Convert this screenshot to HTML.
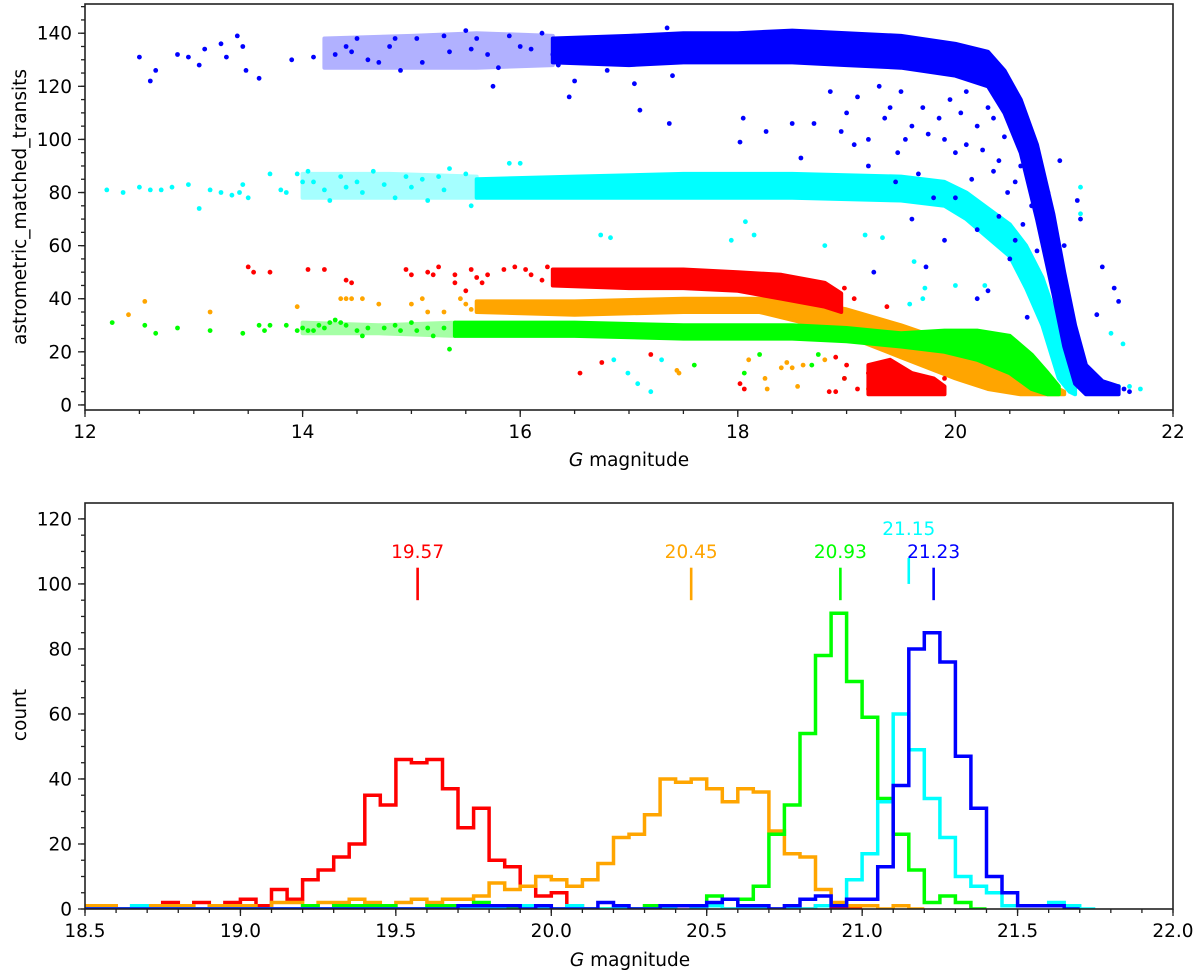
<!DOCTYPE html>
<html><head><meta charset="utf-8"><style>
html,body{margin:0;padding:0;background:#fff;}
svg{display:block;font-family:"DejaVu Sans","Liberation Sans",sans-serif;}
</style></head><body>
<svg id="fig" width="1200" height="975" viewBox="0 0 1200 975" xmlns="http://www.w3.org/2000/svg">
<g id="topPanel"></g>
<g id="botPanel"></g>
</svg>
<script>
// ---------- scatter data ----------
const colors = ['#ff0000','#ffa500','#00ff00','#00ffff','#0000ff'];
const seriesNames = ['red','orange','green','cyan','blue'];
const blueBandMag = [16.3,17.0,17.5,18.0,18.5,19.0,19.5,20.0,20.3,20.45,20.6,20.75,20.9,21.0,21.1,21.2,21.35,21.5];
const blueBandHi  = [138,139,140,140,141,140,139,136,133,126,115,98,72,50,30,15,9,7];
const blueBandLo  = [129,128,129,129,129,128,127,124,120,110,95,70,42,22,8,4,4,4];
const blueSparseBandMag = [14.2,15.0,15.6,16.3];
const blueSparseBandHi  = [138,139,140,139];
const blueSparseBandLo  = [127,127,127,128];
const cyanBandMag = [15.6,16.5,17.5,18.5,19.5,19.9,20.1,20.3,20.5,20.65,20.8,20.95,21.05,21.1];
const cyanBandHi  = [85,86,87,87,86,84,80,74,68,60,48,30,15,8];
const cyanBandLo  = [78,78,78,78,77,75,70,63,56,44,30,10,5,4];
const cyanSparseBandMag = [14.0,14.8,15.6];
const cyanSparseBandHi  = [87,87,86];
const cyanSparseBandLo  = [78,78,78];
const redBandMag  = [16.3,17.0,17.5,18.0,18.4,18.8,18.95];
const redBandHi   = [51,51,51,50,49,46,42];
const redBandLo   = [45,44,44,43,40,37,35];
const redClMag    = [19.2,19.4,19.6,19.8,19.9];
const redClHi     = [15,17,12,10,7];
const redClLo     = [4,4,4,4,4];
const orBandMag   = [15.6,16.5,17.5,18.2,18.6,19.0,19.5,20.0,20.3,20.6,20.9,21.0];
const orBandHi    = [39,39,40,40,39,36,30,23,17,11,7,5];
const orBandLo    = [35,34,35,35,31,26,18,10,6,4,4,4];
const grBandMag   = [15.4,16.5,17.5,18.5,19.0,19.5,19.9,20.2,20.5,20.7,20.85,20.95];
const grBandHi    = [31,31,30,30,29,27,28,28,26,19,12,7];
const grBandLo    = [26,26,25,25,24,22,20,17,12,6,4,4];
const grSparseBandMag = [14.0,14.7,15.4];
const grSparseBandHi  = [31,30,31];
const grSparseBandLo  = [27,27,26];
const blueSparse = [[12.5,131],[12.6,122],[12.65,126],[12.85,132],[12.95,131],[13.05,128],[13.1,134],[13.25,136],[13.3,131],[13.4,139],[13.45,135],[13.48,126],[13.6,123],[13.9,130],[14.1,131],[14.3,132],[14.4,135],[14.45,133],[14.5,138],[14.6,130],[14.7,129],[14.8,135],[14.85,138],[14.9,126],[15.05,138],[15.1,129],[15.3,139],[15.35,133],[15.5,141],[15.55,134],[15.6,138],[15.7,132],[15.75,120],[15.8,127],[15.9,139],[16.0,135],[16.1,134],[16.2,140],[16.3,132],[16.35,128],[16.45,116],[16.5,122],[16.6,133],[16.7,138],[16.8,126],[16.9,131],[17.05,121],[17.35,142],[17.4,124],[17.1,111],[17.37,106],[18.02,99],[18.05,108],[18.26,103],[18.5,106],[18.58,93],[18.7,106],[19.0,110],[19.07,98],[19.2,100],[19.25,50],[19.47,95],[19.54,100],[19.66,87],[19.73,52],[19.85,108],[20.0,95],[20.1,98],[20.2,105],[20.3,43],[20.4,71],[20.48,80],[20.6,90],[20.66,33],[20.8,62],[20.96,92],[21.12,77],[21.15,70],[21.35,52],[21.5,39],[21.46,44],[21.3,34],[19.9,62],[20.5,55],[20.2,40],[19.6,70],[19.8,78],[20.7,88],[21.0,60],[19.4,112],[19.95,115],[20.15,85],[20.35,108],[18.85,118],[19.3,120],[21.55,6],[21.6,5],[19.1,116],[19.35,108],[19.5,118],[19.7,112],[19.75,102],[19.9,100],[20.05,110],[20.1,118],[20.25,96],[20.3,112],[20.4,92],[20.45,101],[20.55,84],[20.62,68],[20.7,75],[20.85,80],[20.75,58],[20.9,50],[19.45,84],[19.2,90],[18.95,103],[19.6,105],[20.0,78],[20.2,66],[20.55,62],[20.35,88]];
const cyanSparse = [[12.2,81],[12.35,80],[12.5,82],[12.6,81],[12.7,81],[12.8,82],[12.95,83],[13.05,74],[13.15,81],[13.25,80],[13.35,79],[13.42,80],[13.45,83],[13.5,78],[13.7,87],[13.8,81],[13.85,80],[13.95,87],[14.0,84],[14.05,88],[14.1,84],[14.2,81],[14.25,77],[14.35,86],[14.4,82],[14.5,84],[14.55,80],[14.65,88],[14.75,83],[14.85,78],[14.95,86],[15.0,82],[15.1,85],[15.15,77],[15.25,86],[15.3,81],[15.35,89],[15.5,87],[15.55,75],[15.65,83],[15.7,81],[15.9,91],[16.0,91],[15.8,84],[16.86,17],[16.99,12],[17.08,8],[17.3,17],[16.74,64],[16.83,63],[17.94,62],[18.07,69],[18.15,64],[18.8,60],[19.17,64],[19.33,63],[19.62,54],[19.72,44],[19.58,38],[19.7,40],[20.0,45],[20.27,45],[20.58,52],[20.7,48],[21.15,82],[21.15,72],[21.43,27],[21.54,23],[21.6,7],[21.7,6],[21.5,7],[17.2,5],[20.9,45],[21.0,40]];
const redSparse = [[13.5,52],[13.55,50],[13.7,50],[14.05,51],[14.2,51],[14.4,47],[14.45,46],[14.95,51],[15.0,49],[15.15,50],[15.2,49],[15.25,52],[15.4,49],[15.4,46],[15.5,43],[15.55,51],[15.6,48],[15.65,46],[15.7,49],[15.85,51],[15.95,52],[16.05,51],[16.1,49],[16.2,47],[16.25,52],[16.55,12],[16.75,16],[17.2,19],[18.06,6],[18.02,8],[18.84,5],[18.98,10],[19.1,6],[19.2,12],[19.37,37],[18.98,44],[19.07,40],[18.9,18],[19.0,15],[19.6,6],[19.9,10],[19.85,5],[18.9,5]];
const orangeSparse = [[12.4,34],[12.55,39],[13.15,35],[13.95,37],[14.35,40],[14.4,40],[14.45,40],[14.55,40],[14.7,38],[15.0,38],[15.1,40],[15.15,35],[15.3,35],[15.45,40],[15.5,38],[15.55,36],[17.44,13],[18.1,17],[18.25,10],[18.4,14],[18.5,14],[18.45,16],[18.6,15],[18.27,6],[18.55,7],[18.8,17],[19.2,6],[17.46,12]];
const greenSparse = [[12.25,31],[12.55,30],[12.65,27],[12.85,29],[13.15,28],[13.45,27],[13.6,30],[13.65,28],[13.7,30],[13.85,30],[13.95,28],[14.0,29],[14.05,28],[14.1,28],[14.15,30],[14.2,29],[14.25,31],[14.3,32],[14.35,31],[14.4,30],[14.5,28],[14.55,26],[14.6,29],[14.75,29],[14.85,30],[14.9,28],[15.0,31],[15.05,28],[15.15,29],[15.2,26],[15.3,29],[15.35,21],[17.6,15],[18.06,12],[18.2,19],[18.68,15],[18.74,19],[18.98,10],[19.5,8],[19.3,12],[19.45,15]];
const topXTicks = [12,14,16,18,20,22];
const topYTicks = [0,20,40,60,80,100,120,140];

// ---------- histogram data (bins of 0.05 from 18.5) ----------
const binStart = 18.5, binWidth = 0.05;
const histRed = [1,1,0,0,0,2,1,2,1,2,3,1,6,3,9,12,16,20,35,32,46,45,46,37,25,31,15,13,7,4,5,1,0,0,0,0,0,0,1,0,1,0,0,0,0,0,0,1,0,0];
const histOrange = [1,1,0,0,1,1,1,0,1,1,1,0,2,2,0,2,2,3,2,1,2,3,2,3,3,4,8,6,7,10,9,7,9,14,22,23,29,40,39,40,37,33,37,36,24,17,16,6,2,1,1,0,1,0];
const histGreen = [0,0,0,0,0,0,0,0,0,0,0,0,0,0,1,0,1,1,1,1,0,0,1,1,0,2,0,0,0,0,0,0,0,0,0,0,1,1,1,1,4,3,3,7,23,32,54,78,91,70,59,34,23,12,2,4,2,0];
const histCyan = [0,0,0,1,0,0,0,0,0,0,0,0,0,0,0,0,0,0,0,0,0,0,0,0,0,0,0,1,1,0,0,1,0,0,0,0,0,0,1,0,1,0,0,0,0,0,0,1,1,9,17,33,60,49,34,22,10,7,5,1,1,1,2,1,0];
const histBlue = [0,0,0,0,0,0,0,0,0,0,0,0,0,0,0,0,0,0,0,0,0,0,0,0,1,1,1,1,0,1,0,0,0,2,1,0,0,1,1,1,2,3,1,1,0,1,3,4,1,3,3,13,38,80,85,76,47,31,10,5,1,1,1,0];
const meanVals = [19.57,20.45,20.93,21.15,21.23];
const meanLabels = ['19.57','20.45','20.93','21.15','21.23'];
const meanTickLo = [95,95,95,100,95];
const meanTickHi = [105,105,105,108,105];
const meanLabelY = [108,108,108,115,108];
const botXTicks = [18.5,19.0,19.5,20.0,20.5,21.0,21.5,22.0];
const botXTickLabels = ['18.5','19.0','19.5','20.0','20.5','21.0','21.5','22.0'];
const botYTicks = [0,20,40,60,80,100,120];

(function(){
const T = {l:85,r:1173,t:4,b:410, x0:12,x1:22, y0:-1.9,y1:151};
const B = {l:85,r:1173,t:503,b:909, x0:18.5,x1:22, y0:0,y1:124.9};
const tx = v => T.l + (v-T.x0)/(T.x1-T.x0)*(T.r-T.l);
const ty = v => T.b - (v-T.y0)/(T.y1-T.y0)*(T.b-T.t);
const bx = v => B.l + (v-B.x0)/(B.x1-B.x0)*(B.r-B.l);
const by = v => B.b - (v-B.y0)/(B.y1-B.y0)*(B.b-B.t);
const NS='http://www.w3.org/2000/svg';
function mk(tag, parent, attrs){const e=document.createElementNS(NS,tag);for(const k in attrs)e.setAttribute(k,attrs[k]);parent.appendChild(e);return e;}
const topG=document.getElementById('topPanel'), botG=document.getElementById('botPanel');

const defs=mk('defs',document.getElementById('fig'),{});
const cp=mk('clipPath',defs,{id:'clipT'});mk('rect',cp,{x:T.l,y:T.t,width:T.r-T.l,height:T.b-T.t});
const cp2=mk('clipPath',defs,{id:'clipB'});mk('rect',cp2,{x:B.l,y:B.t,width:B.r-B.l,height:B.b-B.t});

const plotT=mk('g',topG,{'clip-path':'url(#clipT)'});



function band(mags,hi,lo,color,name,op){
  let d='M'+mags.map((m,i)=>tx(m).toFixed(1)+','+ty(hi[i]).toFixed(1)).join(' L');
  for(let i=mags.length-1;i>=0;i--) d+=' L'+tx(mags[i]).toFixed(1)+','+ty(lo[i]).toFixed(1);
  d+='Z';
  const p=mk('path',plotT,{d:d,fill:color,stroke:color,'stroke-width':4,'stroke-linejoin':'round',opacity:op||1});
  
  
}
function pts(arr,color,name){
  const g=mk('g',plotT,{fill:color});
  
  
  arr.forEach(p=>{const c=mk('circle',g,{cx:tx(p[0]).toFixed(1),cy:ty(p[1]).toFixed(1),r:2.4});
    
    });
}
band(orBandMag,orBandHi,orBandLo,colors[1],'orange-dense-band');
pts(orangeSparse,colors[1],'orange-points');
band(grSparseBandMag,grSparseBandHi,grSparseBandLo,colors[2],'green-sparse-band',0.35);
band(grBandMag,grBandHi,grBandLo,colors[2],'green-dense-band');
pts(greenSparse,colors[2],'green-points');
band(redBandMag,redBandHi,redBandLo,colors[0],'red-dense-band');
band(redClMag,redClHi,redClLo,colors[0],'red-faint-cluster');
pts(redSparse,colors[0],'red-points');
band(cyanSparseBandMag,cyanSparseBandHi,cyanSparseBandLo,colors[3],'cyan-sparse-band',0.35);
band(cyanBandMag,cyanBandHi,cyanBandLo,colors[3],'cyan-dense-band');
pts(cyanSparse,colors[3],'cyan-points');
band(blueSparseBandMag,blueSparseBandHi,blueSparseBandLo,colors[4],'blue-sparse-band',0.3);
band(blueBandMag,blueBandHi,blueBandLo,colors[4],'blue-dense-band');
pts(blueSparse,colors[4],'blue-points');

function frame(parent,A,name){
  const r=mk('rect',parent,{x:A.l,y:A.t,width:A.r-A.l,height:A.b-A.t,fill:'none',stroke:'#222',"stroke-width":1.6});
  
  
}
function xTicks(parent,A,fx,major,labels,minorStep,name){
  const g=mk('g',parent,{stroke:'#222','stroke-width':1.3});
  
  
  for(let v=A.x0;v<=A.x1+1e-9;v+=minorStep){mk('line',g,{x1:fx(v),x2:fx(v),y1:A.b,y2:A.b+4});}
  major.forEach((v,i)=>{mk('line',g,{x1:fx(v),x2:fx(v),y1:A.b,y2:A.b+7});
    const t=mk('text',parent,{x:fx(v),y:A.b+28,'font-size':18.5,'text-anchor':'middle',fill:'#000'});
    t.textContent=labels[i];
    
    });
}
function yTicks(parent,A,fy,major,minorStep,name){
  const g=mk('g',parent,{stroke:'#222','stroke-width':1.3});
  
  
  const s=Math.ceil(A.y0/minorStep)*minorStep;
  for(let v=s;v<=A.y1;v+=minorStep){mk('line',g,{x1:A.l-4,x2:A.l,y1:fy(v),y2:fy(v)});}
  major.forEach(v=>{mk('line',g,{x1:A.l-7,x2:A.l,y1:fy(v),y2:fy(v)});
    const t=mk('text',parent,{x:A.l-13,y:fy(v)+6.5,'font-size':18.5,'text-anchor':'end',fill:'#000'});
    t.textContent=String(v);
    
    });
}
function xTitle(parent,x,y,name){
  const t=mk('text',parent,{x:x,y:y,'font-size':18.5,'text-anchor':'middle'});
  const s1=mk('tspan',t,{'font-style':'italic'}); s1.textContent='G';
  const s2=mk('tspan',t,{}); s2.textContent=' magnitude';
  
  
}
frame(topG,T,'scatter-frame');
xTicks(topG,T,tx,topXTicks,topXTicks.map(String),0.5,'scatter-x');
yTicks(topG,T,ty,topYTicks,5,'scatter-y');
xTitle(topG,629,466,'scatter-x-axis-title');
let lab=mk('text',topG,{x:0,y:0,'font-size':18.5,'text-anchor':'middle',transform:'translate(26,207) rotate(-90)'});
lab.textContent='astrometric_matched_transits';



const plotB=mk('g',botG,{'clip-path':'url(#clipB)'});


const hists=[histRed,histOrange,histGreen,histCyan,histBlue];
hists.forEach((h,si)=>{
  let d='M'+bx(binStart).toFixed(1)+','+by(0).toFixed(1);
  h.forEach((c,i)=>{const a=binStart+i*binWidth,b=a+binWidth;
    d+=' L'+bx(a).toFixed(1)+','+by(c).toFixed(1)+' L'+bx(b).toFixed(1)+','+by(c).toFixed(1);});
  d+=' L'+bx(binStart+h.length*binWidth).toFixed(1)+','+by(0).toFixed(1);
  const p=mk('path',plotB,{d:d,fill:'none',stroke:colors[si],'stroke-width':3.5,'stroke-linejoin':'miter'});
  
  
});
meanVals.forEach((m,i)=>{
  const l=mk('line',botG,{x1:bx(m),x2:bx(m),y1:by(meanTickLo[i]),y2:by(meanTickHi[i]),stroke:colors[i],'stroke-width':2.6});
  
  
  const t=mk('text',botG,{x:bx(m),y:by(meanLabelY[i]),'font-size':18.5,'text-anchor':'middle',fill:colors[i]});
  t.textContent=meanLabels[i];
  
  
});
frame(botG,B,'histogram-frame');
xTicks(botG,B,bx,botXTicks,botXTickLabels,0.1,'histogram-x');
yTicks(botG,B,by,botYTicks,5,'histogram-y');
xTitle(botG,630,966,'histogram-x-axis-title');
lab=mk('text',botG,{x:0,y:0,'font-size':18.5,'text-anchor':'middle',transform:'translate(26,715) rotate(-90)'});
lab.textContent='count';


})();
</script>
</body></html>
